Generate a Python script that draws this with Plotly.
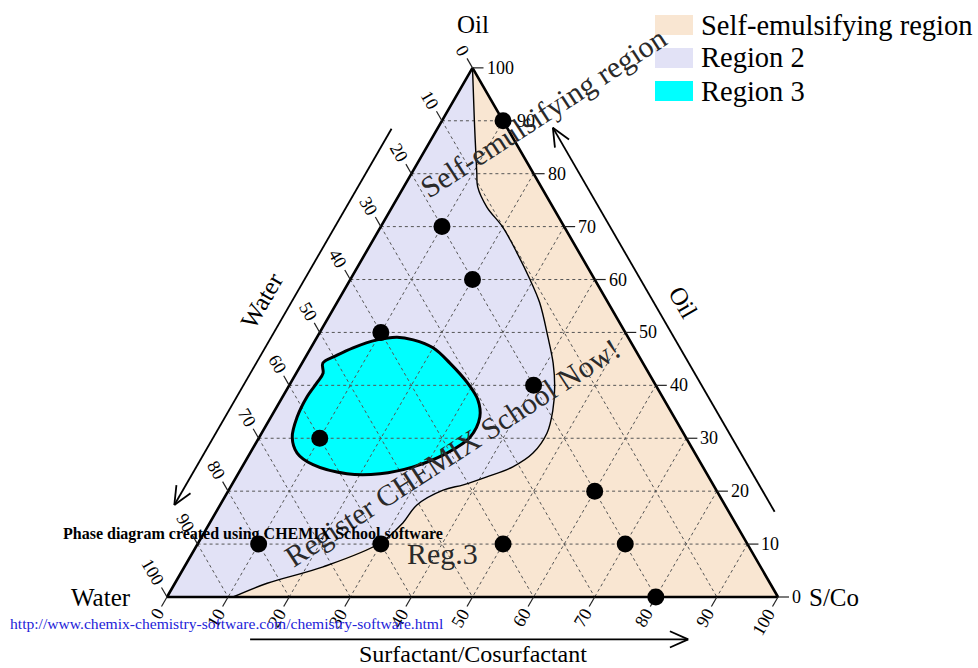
import numpy as np
import plotly.graph_objects as go

# ---------------- data (ternary percentages: Oil, Water, S/Co) ----------------
point_oil   = [90, 70, 60, 50, 40, 30, 20, 10, 10, 10, 10, 0]
point_water = [0, 20, 20, 40, 20, 60, 20, 80, 60, 40, 20, 20]
point_sc    = [10, 10, 20, 10, 40, 10, 60, 10, 30, 50, 70, 80]

# boundary between Region 2 and the self-emulsifying region (top vertex -> bottom edge)
region2_oil   = [100, 90.2, 80.2, 77.5, 73.7, 69.9, 65.0, 59.9, 55.6, 49.1, 44.2, 39.7, 35.3,
                 31.0, 27.2, 24.6, 22.7, 21.2, 20.2, 17.4, 14.0, 10.2, 5.7, 2.6, 0]
region2_water = [0, 4.6, 9.2, 10.4, 10.8, 10.1, 10.2, 10.6, 11.2, 13.1, 14.7, 16.7, 19.2,
                 22.3, 26.5, 31.1, 36.3, 40.9, 44.7, 50.4, 54.4, 60.0, 71.6, 82.3, 89.2]
region2_sc    = [0, 5.2, 10.6, 12.1, 15.5, 20.0, 24.8, 29.5, 33.2, 37.8, 41.1, 43.6, 45.5,
                 46.7, 46.3, 44.3, 41.0, 37.9, 35.1, 32.2, 31.6, 29.8, 22.7, 15.1, 10.8]

# Region 3 closed blob
region3_oil   = [44.2, 42.3, 40.5, 37.8, 34.0, 30.2, 27.2, 25.0, 23.3, 23.3, 24.6, 27.2,
                 30.2, 34.0, 37.2, 40.5, 44.2, 47.1, 48.6, 49.1, 48.6, 47.1, 45.7]
region3_water = [52.4, 53.3, 55.2, 58.2, 61.7, 64.4, 65.1, 63.6, 58.9, 53.5, 47.4, 40.6,
                 35.3, 31.8, 30.5, 30.6, 31.6, 32.9, 35.4, 37.8, 41.3, 46.0, 49.3]
region3_sc    = [3.4, 4.4, 4.3, 4.0, 4.3, 5.4, 7.7, 11.4, 17.8, 23.2, 28.0, 32.2,
                 34.5, 34.2, 32.3, 28.9, 24.2, 20.0, 16.0, 13.1, 10.1, 6.9, 5.0]

tick_values = [0, 10, 20, 30, 40, 50, 60, 70, 80, 90, 100]
tick_labels = [str(v) for v in tick_values]

legend_names = ["Self-emulsifying region", "Region 2", "Region 3"]
legend_colors = ["#F9E6D2", "#E2E2F6", "#00FFFF"]
vertex_titles = ["Oil", "Water", "S/Co"]
side_titles = ["Water", "Oil", "Surfactant/Cosurfactant"]

# ---------------- geometry helpers ----------------
FONT = "Liberation Serif, Times New Roman, serif"
H = np.sqrt(3) / 2
PX = 611.0            # pixels per unit side
UNIT = PX / 100.0     # pixels per percent along a grid direction
W, HT = 978, 668


def to_xy(oil, water, sc):
    oil = np.atleast_1d(np.asarray(oil, float))
    water = np.atleast_1d(np.asarray(water, float))
    sc = np.atleast_1d(np.asarray(sc, float))
    tot = oil + water + sc
    o, s = oil / tot, sc / tot
    return s + o / 2, o * H


def seg_lists(segs):
    xs, ys = [], []
    for a, b in segs:
        x, y = to_xy([a[0], b[0]], [a[1], b[1]], [a[2], b[2]])
        xs += list(x) + [None]
        ys += list(y) + [None]
    return xs, ys


fig = go.Figure()

# background triangle = self-emulsifying region
tx, ty = to_xy([100, 0, 0, 100], [0, 100, 0, 0], [0, 0, 100, 0])
fig.add_trace(go.Scatter(x=tx, y=ty, mode="lines", fill="toself", fillcolor=legend_colors[0],
                         line=dict(width=0, color=legend_colors[0]), name=legend_names[0],
                         hoverinfo="skip"))

# Region 2
r2x, r2y = to_xy(region2_oil + [0, 100], region2_water + [100, 0], region2_sc + [0, 0])
fig.add_trace(go.Scatter(x=r2x, y=r2y, mode="lines", fill="toself", fillcolor=legend_colors[1],
                         line=dict(width=0, color=legend_colors[1]), name=legend_names[1],
                         hoverinfo="skip"))

# Region 3
r3x, r3y = to_xy(region3_oil + region3_oil[:1], region3_water + region3_water[:1],
                 region3_sc + region3_sc[:1])
fig.add_trace(go.Scatter(x=r3x, y=r3y, mode="lines", fill="toself", fillcolor=legend_colors[2],
                         line=dict(width=0, color=legend_colors[2], shape="spline", smoothing=1),
                         name=legend_names[2], hoverinfo="skip"))

# grid lines
segs = []
for k in tick_values[1:-1]:
    segs.append(((k, 100 - k, 0), (k, 0, 100 - k)))      # const oil
    segs.append(((100 - k, k, 0), (0, k, 100 - k)))      # const water
    segs.append(((100 - k, 0, k), (0, 100 - k, k)))      # const S/Co
gx, gy = seg_lists(segs)
fig.add_trace(go.Scatter(x=gx, y=gy, mode="lines", line=dict(color="#555555", width=1, dash="dot"),
                         showlegend=False, hoverinfo="skip"))

# outlines
ox, oy = to_xy(region2_oil, region2_water, region2_sc)
fig.add_trace(go.Scatter(x=ox, y=oy, mode="lines", line=dict(color="black", width=1.4, shape="spline"),
                         showlegend=False, hoverinfo="skip"))
fig.add_trace(go.Scatter(x=r3x, y=r3y, mode="lines",
                         line=dict(color="black", width=3, shape="spline", smoothing=1),
                         showlegend=False, hoverinfo="skip"))

# triangle border
fig.add_trace(go.Scatter(x=tx, y=ty, mode="lines", line=dict(color="black", width=2.6),
                         showlegend=False, hoverinfo="skip"))

# ticks
TICK = 11 / UNIT
tsegs = []
for k in tick_values:
    tsegs.append(((k, 0, 100 - k), (k, -TICK, 100 - k + TICK)))          # right (oil)
    tsegs.append(((100 - k, k, 0), (100 - k + TICK, k, -TICK)))          # left (water)
    tsegs.append(((0, 100 - k, k), (-TICK, 100 - k + TICK, k)))          # bottom (S/Co)
kx, ky = seg_lists(tsegs)
fig.add_trace(go.Scatter(x=kx, y=ky, mode="lines", line=dict(color="#222222", width=1.2),
                         showlegend=False, hoverinfo="skip"))

# arrows
arrows = [((88.5, 19.0, -7.5), (17.4, 90.1, -7.5)),
          ((16.1, -7.5, 91.4), (88.7, -7.5, 18.8)),
          ((-8.0, 90.4, 17.6), (-8.0, 18.7, 89.3))]
ax_, ay_ = [], []
for tail, tip in arrows:
    x, y = to_xy([tail[0], tip[0]], [tail[1], tip[1]], [tail[2], tip[2]])
    ax_ += list(x) + [None]
    ay_ += list(y) + [None]
    dx, dy = x[0] - x[1], y[0] - y[1]
    n = np.hypot(dx, dy)
    dx, dy = dx / n, dy / n
    L = 20 / PX
    for sgn in (1, -1):
        a = np.radians(24) * sgn
        rx = dx * np.cos(a) - dy * np.sin(a)
        ry = dx * np.sin(a) + dy * np.cos(a)
        ax_ += [x[1], x[1] + rx * L, None]
        ay_ += [y[1], y[1] + ry * L, None]
fig.add_trace(go.Scatter(x=ax_, y=ay_, mode="lines", line=dict(color="black", width=1.8),
                         showlegend=False, hoverinfo="skip"))

# data points
px_, py_ = to_xy(point_oil, point_water, point_sc)
fig.add_trace(go.Scatter(x=px_, y=py_, mode="markers",
                         marker=dict(color="black", size=17, line=dict(width=0)),
                         showlegend=False,
                         customdata=np.stack([point_oil, point_water, point_sc], axis=1),
                         hovertemplate="Oil %{customdata[0]}<br>Water %{customdata[1]}<br>S/Co %{customdata[2]}<extra></extra>"))

# ---------------- annotations ----------------
ann = []
TF = dict(family=FONT, size=18, color="black")
for k, lab in zip(tick_values, tick_labels):
    # right side: oil
    x, y = to_xy(k, -TICK, 100 - k + TICK)
    ann.append(dict(x=x[0], y=y[0], text=lab, showarrow=False, xanchor="left", yanchor="middle",
                    xshift=1, font=TF))
    dc = (11 + 4 + 4.6 * len(lab)) / UNIT
    # left side: water
    x, y = to_xy(100 - k + dc, k, -dc)
    ann.append(dict(x=x[0], y=y[0], text=lab, showarrow=False, xanchor="center", yanchor="middle",
                    textangle=60, font=TF))
    # bottom: S/Co
    x, y = to_xy(-dc, 100 - k + dc, k)
    ann.append(dict(x=x[0], y=y[0], text=lab, showarrow=False, xanchor="center", yanchor="middle",
                    textangle=-60, font=TF))

TT = dict(family=FONT, size=25, color="black")
x, y = to_xy(100, 0, 0)
ann.append(dict(x=x[0], y=y[0], text=vertex_titles[0], showarrow=False, xanchor="center",
                yanchor="middle", yshift=43, font=TT))
x, y = to_xy(0, 100, 0)
ann.append(dict(x=x[0], y=y[0], text=vertex_titles[1], showarrow=False, xanchor="right", yanchor="middle",
                xshift=-34, font=TT))
x, y = to_xy(0, 0, 100)
ann.append(dict(x=x[0], y=y[0], text=vertex_titles[2], showarrow=False, xanchor="left", yanchor="middle",
                xshift=29, font=TT))
x, y = to_xy(50, 50, 0)
ann.append(dict(x=x[0], y=y[0], text=side_titles[0], showarrow=False, textangle=-60,
                xanchor="center", yanchor="middle", xshift=-58, yshift=32, font=TT))
x, y = to_xy(50, 0, 50)
ann.append(dict(x=x[0], y=y[0], text=side_titles[1], showarrow=False, textangle=60,
                xanchor="center", yanchor="middle", xshift=58, yshift=30, font=TT))
x, y = to_xy(0, 50, 50)
ann.append(dict(x=x[0], y=y[0], text=side_titles[2], showarrow=False, xanchor="center",
                yanchor="middle", yshift=-57, font=dict(family=FONT, size=24, color="black")))

WM = dict(family=FONT, size=30, color="#2a2a2a")


def paper(px, py):
    return px / W, 1 - py / HT


for text, (cx, cy), ang, font in [
        ("Self-emulsifying region", (543, 112), -33, WM),
        ("Register CHEMIX School Now!", (452, 452), -33, WM),
        ("Reg.3", (442, 553), 0, WM),
        ("<b>Phase diagram created using CHEMIX School software</b>", (253, 534), 0,
         dict(family=FONT, size=16, color="black"))]:
    xp, yp = paper(cx, cy)
    ann.append(dict(xref="paper", yref="paper", x=xp, y=yp, text=text, showarrow=False,
                    xanchor="center", yanchor="middle", textangle=ang, font=font))

xp, yp = paper(8, 623)
ann.append(dict(xref="paper", yref="paper", x=xp, y=yp, xanchor="left", yanchor="middle",
                text="http://www.chemix-chemistry-software.com/chemistry-software.html",
                showarrow=False, font=dict(family=FONT, size=15.6, color="#2323d8")))

# custom legend (large swatches as in the reference)
shapes = []
for i, (name, col) in enumerate(zip(legend_names, legend_colors)):
    cy = 25 + 33 * i
    x0, y0 = paper(655, cy - 10)
    x1, y1 = paper(693, cy + 10)
    shapes.append(dict(type="rect", xref="paper", yref="paper", x0=x0, x1=x1, y0=y1, y1=y0,
                       fillcolor=col, line=dict(width=0), layer="above"))
    xp, yp = paper(699, cy)
    ann.append(dict(xref="paper", yref="paper", x=xp, y=yp, text=name, showarrow=False,
                    xanchor="left", yanchor="middle", font=dict(family=FONT, size=28.5, color="black")))

fig.update_layout(
    width=W, height=HT,
    margin=dict(l=0, r=0, t=0, b=0),
    paper_bgcolor="white", plot_bgcolor="white",
    xaxis=dict(range=[-167 / PX, (W - 167) / PX], visible=False, fixedrange=True),
    yaxis=dict(range=[-71 / PX, 597 / PX], visible=False, fixedrange=True),
    showlegend=False,
    annotations=ann,
    shapes=shapes,
    font=dict(family=FONT),
)

fig.write_html("out.html", config={"displayModeBar": False},
               post_script="document.body.style.margin='0px';")
